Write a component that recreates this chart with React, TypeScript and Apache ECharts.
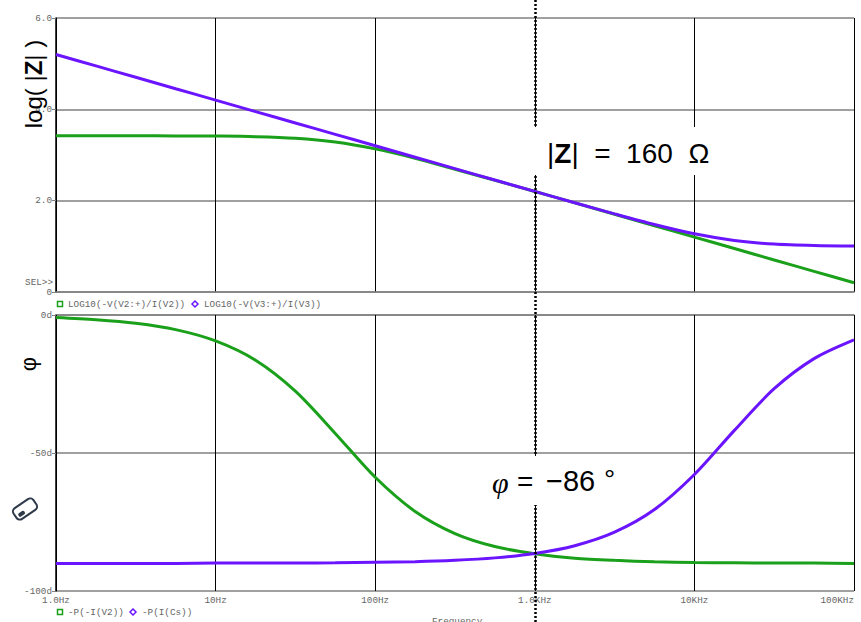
import React, { useEffect, useRef } from "react";
import * as echarts from "echarts";

const freqs = [1, 1.78, 3.16, 5.62, 10, 17.8, 31.6, 56.2, 100, 178, 316, 562, 1000, 1780, 3160, 5620, 10000, 17800, 31600, 56200, 100000];
const logZ_V2 = [3.42, 3.42, 3.42, 3.418, 3.414, 3.402, 3.368, 3.285, 3.134, 2.928, 2.687, 2.447, 2.201, 1.952, 1.702, 1.452, 1.202, 0.952, 0.702, 0.452, 0.202];
const logZ_V3 = [5.202, 4.951, 4.702, 4.452, 4.202, 3.951, 3.702, 3.452, 3.202, 2.951, 2.702, 2.452, 2.203, 1.954, 1.711, 1.478, 1.274, 1.128, 1.049, 1.017, 1.005];
const phase_V2 = [-0.9, -1.7, -3.0, -5.3, -9.4, -16.4, -27.6, -42.9, -58.8, -71.2, -79.2, -83.9, -86.5, -88.1, -88.9, -89.4, -89.7, -89.8, -89.9, -89.9, -90.0];
const phase_Cs = [-90, -90, -90, -90, -89.9, -89.9, -89.9, -89.8, -89.6, -89.4, -88.9, -88.0, -86.4, -83.6, -78.7, -70.5, -57.8, -41.8, -26.7, -15.8, -9.0];

const xTickLabels = ["1.0Hz", "10Hz", "100Hz", "1.0KHz", "10KHz", "100KHz"];
const topTickLabels: Record<string, string> = { "0": "0", "2": "2.0", "4": "4.0", "6": "6.0" };
const bottomTickLabels: Record<string, string> = { "-100": "-100d", "-50": "-50d", "0": "0d" };
const legendTop = ["LOG10(-V(V2:+)/I(V2))", "LOG10(-V(V3:+)/I(V3))"];
const legendBottom = ["-P(-I(V2))", "-P(I(Cs))"];
const cursorFreq = 1000;

const GREEN = "#1ba01b";
const PURPLE = "#6b14ff";
const GRAY_TXT = "#666";
const MONO = "Liberation Mono";
const SANS = "Liberation Sans";

export default function App() {
  const ref = useRef<HTMLDivElement>(null);
  useEffect(() => {
    if (!ref.current) return;
    const chart = echarts.init(ref.current, undefined, { renderer: "svg" });
    const pairs = (ys: number[]) => freqs.map((f, i) => [f, ys[i]]);
    const xAxisBase = (gridIndex: number, showLabels: boolean) => ({
      type: "log" as const,
      logBase: 10,
      min: 1,
      max: 100000,
      gridIndex,
      axisLine: { show: true, lineStyle: { color: "#808080", width: 1.5 } },
      axisTick: { show: showLabels, length: 5, lineStyle: { color: "#000" } },
      axisLabel: {
        show: showLabels,
        margin: 5,
        fontFamily: MONO,
        fontSize: 9.3,
        color: GRAY_TXT,
        alignMaxLabel: "right",
        formatter: (v: number) => xTickLabels[Math.round(Math.log10(v))] ?? "",
      },
      splitLine: { show: true, lineStyle: { color: "#000", width: 1 } },
      minorTick: { show: false },
    });
    const seriesBase = {
      type: "line" as const,
      showSymbol: false,
      symbol: "none",
      smooth: 0.3,
    };
    const yAxisBase = (gridIndex: number, min: number, max: number, interval: number, labels: Record<string, string>) => ({
      type: "value" as const,
      gridIndex,
      min,
      max,
      interval,
      axisLine: { show: true, lineStyle: { color: "#000", width: 1.5 } },
      axisTick: { show: true, length: 4, lineStyle: { color: "#808080" } },
      axisLabel: {
        margin: 4,
        fontFamily: MONO,
        fontSize: 9.3,
        color: GRAY_TXT,
        formatter: (v: number) => labels[String(v)] ?? "",
      },
      splitLine: { show: true, lineStyle: { color: "#808080", width: 1.5 } },
    });
    chart.setOption({
      animation: false,
      backgroundColor: "#fff",
      grid: [
        { left: 56, right: 7, top: 18, height: 274 },
        { left: 56, right: 7, top: 315, height: 276 },
      ],
      xAxis: [xAxisBase(0, false), xAxisBase(1, true)],
      yAxis: [yAxisBase(0, 0, 6, 2, topTickLabels), yAxisBase(1, -100, 0, 50, bottomTickLabels)],
      series: [
        { ...seriesBase, name: legendTop[0], xAxisIndex: 0, yAxisIndex: 0, data: pairs(logZ_V2), lineStyle: { width: 3, color: GREEN }, itemStyle: { color: GREEN } },
        { ...seriesBase, name: legendTop[1], xAxisIndex: 0, yAxisIndex: 0, data: pairs(logZ_V3), lineStyle: { width: 3, color: PURPLE }, itemStyle: { color: PURPLE } },
        { ...seriesBase, name: legendBottom[0], xAxisIndex: 1, yAxisIndex: 1, data: pairs(phase_V2), lineStyle: { width: 3, color: GREEN }, itemStyle: { color: GREEN } },
        { ...seriesBase, name: legendBottom[1], xAxisIndex: 1, yAxisIndex: 1, data: pairs(phase_Cs), lineStyle: { width: 3, color: PURPLE }, itemStyle: { color: PURPLE } },
      ],
    });

    const xk = chart.convertToPixel({ xAxisIndex: 0, yAxisIndex: 0 } as any, [cursorFreq, 0]) as number[];
    const xc = Math.round(xk[0]) + 0.5;
    const monoText = (x: number, y: number, text: string, align = "left") => ({
      type: "text",
      x,
      y,
      z: 20,
      style: { text, fontFamily: MONO, fontSize: 9.3, fill: GRAY_TXT, align, verticalAlign: "middle" },
    });
    const bigText = (x: number, y: number, text: string, size: number, extra: any = {}) => ({
      type: "text",
      z: 12,
      x,
      y,
      style: { text, fontFamily: SANS, fontSize: size, fill: "#000", verticalAlign: "middle", ...extra },
    });
    const square = (cx: number, cy: number) => ({
      type: "rect",
      z: 20,
      shape: { x: cx - 2.5, y: cy - 2.5, width: 5, height: 5 },
      style: { fill: "none", stroke: GREEN, lineWidth: 1.5 },
    });
    const diamond = (cx: number, cy: number) => ({
      type: "polygon",
      z: 20,
      shape: { points: [[cx, cy - 3], [cx + 3, cy], [cx, cy + 3], [cx - 3, cy]] },
      style: { fill: "none", stroke: PURPLE, lineWidth: 1.5 },
    });

    chart.setOption({
      graphic: [
        {
          type: "line",
          z: 10,
          shape: { x1: xc, y1: 0, x2: xc, y2: 622 },
          style: { stroke: "#000", lineWidth: 2.5, lineDash: [2, 2] },
        },
        { type: "rect", z: 11, shape: { x: xc - 6, y: 127, width: 183, height: 48 }, style: { fill: "#fff" } },
        {
          type: "text",
          z: 12,
          x: 547,
          y: 153,
          style: {
            text: "{a||}{b|Z}{a||  =  160  Ω}",
            verticalAlign: "middle",
            rich: {
              a: { fontFamily: SANS, fontSize: 28, fill: "#000" },
              b: { fontFamily: SANS, fontSize: 28, fontWeight: "bold", fill: "#000" },
            },
          },
        },
        { type: "rect", z: 11, shape: { x: 485, y: 456, width: 145, height: 49 }, style: { fill: "#fff" } },
        bigText(492, 482, "φ", 30, { fontFamily: "Liberation Serif", fontStyle: "italic" }),
        bigText(517, 481, "=", 28),
        bigText(546, 481, "−86", 29),
        bigText(604, 479, "°", 28),
        {
          type: "text",
          z: 12,
          x: 33,
          y: 84,
          rotation: Math.PI / 2,
          style: {
            text: "{a|log( |}{b|Z}{a|| )}",
            align: "center",
            verticalAlign: "middle",
            rich: {
              a: { fontFamily: SANS, fontSize: 24, fill: "#000" },
              b: { fontFamily: SANS, fontSize: 24, fontWeight: "bold", fill: "#000" },
            },
          },
        },
        {
          type: "text",
          z: 12,
          x: 28,
          y: 364,
          rotation: Math.PI / 2,
          style: { text: "φ", fontFamily: SANS, fontSize: 22, fill: "#000", align: "center", verticalAlign: "middle" },
        },
        {
          type: "group",
          x: 25,
          y: 509,
          rotation: 0.6,
          z: 12,
          children: [
            { type: "rect", shape: { x: -12, y: -6.5, width: 24, height: 13, r: 4 }, style: { fill: "none", stroke: "#2e3a4a", lineWidth: 2 } },
            { type: "rect", shape: { x: -9, y: 0, width: 7, height: 4, r: 1.5 }, style: { fill: "#2e3a4a" } },
          ],
        },
        monoText(53, 282.5, "SEL>>", "right"),
        square(60, 304),
        monoText(68, 304, legendTop[0]),
        diamond(195, 304),
        monoText(204, 304, legendTop[1]),
        square(60, 612),
        monoText(68, 612, legendBottom[0]),
        diamond(133, 612),
        monoText(142, 612, legendBottom[1]),
        { type: "text", z: 20, x: 432, y: 617, style: { text: "Frequency", fontFamily: MONO, fontSize: 9.3, fill: GRAY_TXT } },
      ],
    });
    return () => chart.dispose();
  }, []);
  return <div ref={ref} style={{ position: "fixed", left: 0, top: 0, width: 861, height: 622 }} />;
}
